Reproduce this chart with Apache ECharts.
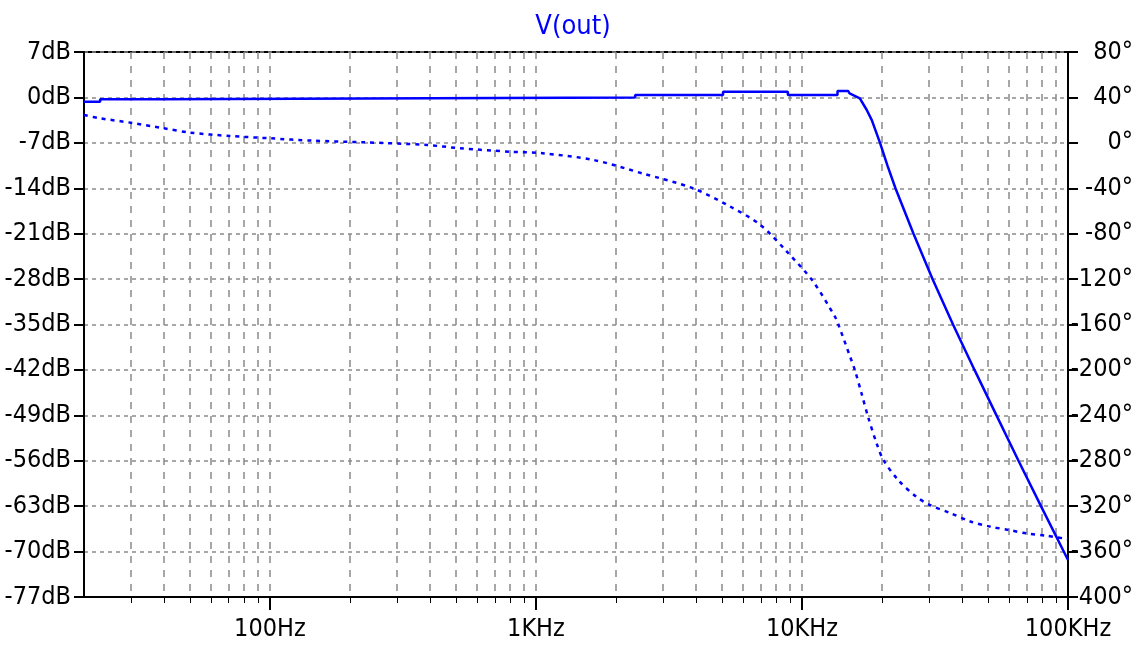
<!DOCTYPE html>
<html>
<head>
<meta charset="utf-8">
<script src="https://cdn.jsdelivr.net/npm/echarts@6/dist/echarts.min.js"></script>
<style>
  html, body { margin: 0; padding: 0; background: #fff; }
  #chart { width: 1146px; height: 655px; }
</style>
</head>
<body>
<div id="chart"></div>
<script>
const FONT = "'Liberation Sans Narrow', 'DejaVu Sans Condensed', sans-serif";
const BLUE = '#0000ff';
const GRID_GRAY = '#8a8a8a';

// 幅频 (solid, left axis)
const gainFreq = [20, 23, 23, 39, 39, 2360, 2360, 5050, 5050, 8850, 8850, 13600, 13600, 14900, 15100, 16500, 17500, 18300, 19650, 20960, 22460, 26260, 30950, 36960, 44520, 53850, 65150, 79140, 100000];
const gainDb   = [-0.66, -0.66, -0.29, -0.29, 0, 0, 0.37, 0.37, 0.88, 0.88, 0.37, 0.37, 1.0, 1.0, 0.63, -0.14, -1.9, -3.5, -7, -10.5, -14, -21, -28, -35, -42, -49, -56, -63, -71.3];

// 相频 (dotted, right axis)
const phaseFreq = [20, 23, 30, 40, 50, 71, 100, 145, 224, 389, 518, 798, 1060, 1640, 2520, 3890, 5360, 6950, 8790, 11000, 13300, 13650, 15150, 15800, 16760, 17700, 19100, 20200, 23000, 27000, 30300, 36000, 43000, 51000, 60000, 70000, 83000, 100000];
const phaseDeg  = [24.5, 21.6, 17.7, 12.8, 9, 6, 4, 1.9, 0.5, -1.9, -4.8, -7.8, -9.2, -15, -27, -40, -56, -72, -96, -122, -153, -159, -188, -200, -221, -241, -265, -279, -297, -312, -319, -326, -333.5, -338, -341, -344, -346, -349];

// 刻度
const decadeTicks = [100, 1000, 10000, 100000];
const gridTicks = [30, 40, 50, 60, 70, 80, 90, 100, 200, 300, 400, 500, 600, 700, 800, 900, 1000,
  2000, 3000, 4000, 5000, 6000, 7000, 8000, 9000, 10000, 20000, 30000, 40000, 50000, 60000, 70000, 80000, 90000];
const freqLabels = {100: '100Hz', 1000: '1KHz', 10000: '10KHz', 100000: '100KHz'};

const zip = (xs, ys) => xs.map((x, i) => [x, ys[i]]);

const chart = echarts.init(document.getElementById('chart'));
chart.setOption({
  animation: false,
  backgroundColor: '#fff',
  title: {
    text: 'V(out)',
    left: 'center',
    top: 8,
    textStyle: {color: BLUE, fontFamily: FONT, fontSize: 27, fontWeight: 'normal'}
  },
  grid: {
    left: 84, right: 78, top: 52, bottom: 58,
    show: true, borderColor: '#000', borderWidth: 2
  },
  xAxis: [
    {
      type: 'log', logBase: 10, min: 20, max: 100000, position: 'bottom',
      axisLine: {onZero: false, lineStyle: {color: '#000', width: 2}},
      axisTick: {customValues: gridTicks, length: 6, lineStyle: {color: '#000', width: 1}},
      axisLabel: {show: false},
      splitLine: {show: true, lineStyle: {color: GRID_GRAY, width: 1.5, type: [7, 7]}}
    },
    {
      type: 'log', logBase: 10, min: 20, max: 100000, position: 'bottom',
      axisLine: {show: false, onZero: false},
      axisTick: {customValues: decadeTicks, length: 13, lineStyle: {color: '#000', width: 2}},
      axisLabel: {
        customValues: decadeTicks, margin: 20, color: '#000', fontFamily: FONT, fontSize: 25,
        formatter: v => freqLabels[Math.round(v)] || ''
      },
      splitLine: {show: false}
    }
  ],
  yAxis: [
    {
      type: 'value', min: -77, max: 7, interval: 7, position: 'left',
      axisLine: {show: true, onZero: false, lineStyle: {color: '#000', width: 2}},
      axisTick: {show: true, length: 10, lineStyle: {color: '#000', width: 2}},
      axisLabel: {margin: 13, color: '#000', fontFamily: FONT, fontSize: 25, formatter: v => v + 'dB'},
      splitLine: {show: true, lineStyle: {color: GRID_GRAY, width: 1.5, type: [4, 4]}}
    },
    {
      type: 'value', min: -400, max: 80, interval: 40, position: 'right',
      axisLine: {show: true, onZero: false, lineStyle: {color: '#000', width: 2}},
      axisTick: {show: true, length: 10, lineStyle: {color: '#000', width: 2}},
      axisLabel: {margin: 65, align: 'right', color: '#000', fontFamily: FONT, fontSize: 25, formatter: v => v + '°'},
      splitLine: {show: false}
    }
  ],
  series: [
    {
      name: 'gain', type: 'line', xAxisIndex: 0, yAxisIndex: 0,
      data: zip(gainFreq, gainDb), showSymbol: false,
      lineStyle: {color: BLUE, width: 2.5}, z: 5
    },
    {
      name: 'phase', type: 'line', xAxisIndex: 0, yAxisIndex: 1,
      data: zip(phaseFreq, phaseDeg), showSymbol: false, smooth: 0.3,
      lineStyle: {color: BLUE, width: 2.5, type: [4, 5]}, z: 5
    }
  ]
});
</script>
</body>
</html>
